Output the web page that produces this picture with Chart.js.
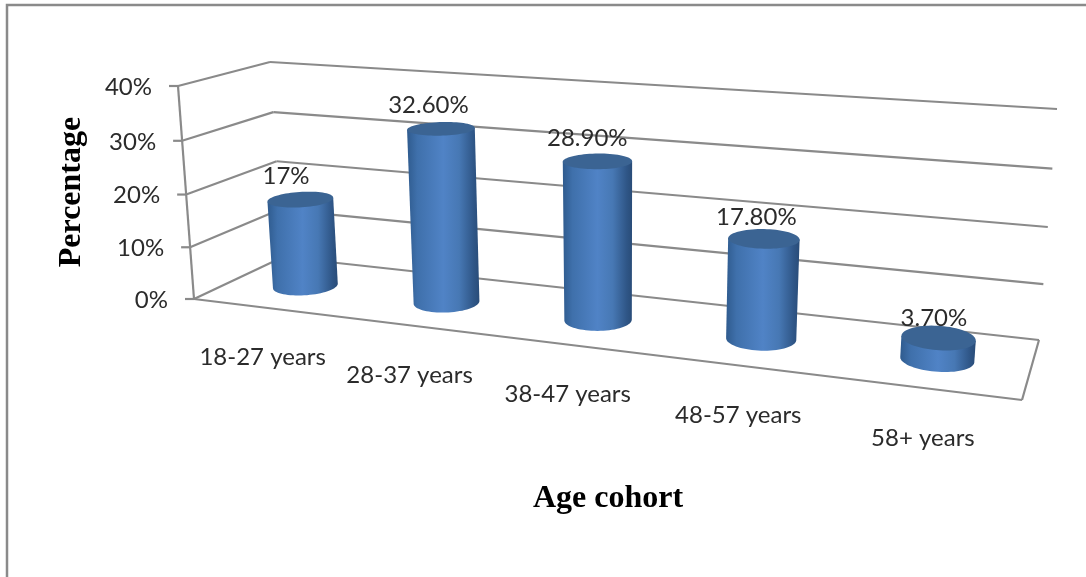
<!DOCTYPE html>
<html>
<head>
<meta charset="utf-8">
<title>Age cohort</title>
<style>
  html, body { margin: 0; padding: 0; background: #fff; }
  canvas { display: block; }
</style>
<script src="https://cdn.jsdelivr.net/npm/chart.js@4"></script>
</head>
<body>
<canvas id="cohortChart" width="1086" height="577"></canvas>
<script>
const categories = ['18-27 years', '28-37 years', '38-47 years', '48-57 years', '58+ years'];
const percentages = [17, 32.6, 28.9, 17.8, 3.7];
const valueLabels = ['17%', '32.60%', '28.90%', '17.80%', '3.70%'];
const yTickLabels = ['0%', '10%', '20%', '30%', '40%'];
const yAxisTitle = 'Percentage';
const xAxisTitle = 'Age cohort';

const LINE_COLOR = '#8a8a8a';
const TEXT_COLOR = '#2b2b2b';
const LABEL_FONT = '24px Lato';
const TITLE_FONT = 'bold 32px "Liberation Serif"';

// screen corners of the plot box, order: floor left, floor right, top right, top left
const FRONT_PLANE = [[194, 299], [1022, 400], [1042, 145], [178, 86]];
const BACK_PLANE = [[283, 257], [1039, 340], [1057, 109], [270, 62]];
const BAR_DEPTH = 0.5;
const BAR_RADIUS_DEPTH = 0.21;

// unit square to quad, standard projective mapping
function makeHomography(q) {
    const [[x0, y0], [x1, y1], [x2, y2], [x3, y3]] = q;
    const dx1 = x1 - x2, dx2 = x3 - x2, sx = x0 - x1 + x2 - x3;
    const dy1 = y1 - y2, dy2 = y3 - y2, sy = y0 - y1 + y2 - y3;
    const den = dx1 * dy2 - dx2 * dy1;
    const g = (sx * dy2 - dx2 * sy) / den;
    const h = (dx1 * sy - sx * dy1) / den;
    const a = x1 - x0 + g * x1, b = x3 - x0 + h * x3;
    const d = y1 - y0 + g * y1, e = y3 - y0 + h * y3;
    return (u, v) => {
        const w = g * u + h * v + 1;
        return [(a * u + b * v + x0) / w, (d * u + e * v + y0) / w];
    };
}

const frontAt = makeHomography(FRONT_PLANE);
const backAt = makeHomography(BACK_PLANE);

// u along the categories, depth 0 front to 1 back, v along the value axis
function project(u, depth, v) {
    const f = frontAt(u, v);
    const b = backAt(u, v);
    return [f[0] + (b[0] - f[0]) * depth, f[1] + (b[1] - f[1]) * depth];
}

function segment(ctx, p, q) {
    ctx.beginPath();
    ctx.moveTo(p[0], p[1]);
    ctx.lineTo(q[0], q[1]);
    ctx.stroke();
}

function unitX(chart, px) {
    return (px - chart.chartArea.left) / chart.chartArea.width;
}

function unitY(chart, px) {
    return (chart.chartArea.bottom - px) / chart.chartArea.height;
}

function ellipsePoints(u, halfU, v) {
    const pts = [];
    for (let i = 0; i < 72; i++) {
        const t = (i / 72) * Math.PI * 2;
        pts.push(project(u + halfU * Math.cos(t), BAR_DEPTH + BAR_RADIUS_DEPTH * Math.sin(t), v));
    }
    return pts;
}

function tracePolygon(ctx, pts) {
    ctx.beginPath();
    pts.forEach((p, i) => (i ? ctx.lineTo(p[0], p[1]) : ctx.moveTo(p[0], p[1])));
    ctx.closePath();
}

function drawCylinder(ctx, u, halfU, vTop, vBase) {
    const top = ellipsePoints(u, halfU, vTop);
    const base = ellipsePoints(u, halfU, vBase);
    const leftOf = (pts) => pts.reduce((m, p) => (p[0] < m[0] ? p : m));
    const rightOf = (pts) => pts.reduce((m, p) => (p[0] > m[0] ? p : m));
    const topL = leftOf(top), topR = rightOf(top);
    const baseL = leftOf(base), baseR = rightOf(base);

    // front half of the base, between its two silhouette points
    const li = base.indexOf(baseL), ri = base.indexOf(baseR);
    const arc = [];
    for (let i = ri; ; i = (i + 71) % 72) {
        arc.push(base[i]);
        if (i === li) break;
    }

    const x0 = Math.min(topL[0], baseL[0]);
    const x1 = Math.max(topR[0], baseR[0]);
    const body = ctx.createLinearGradient(x0, 0, x1, 0);
    body.addColorStop(0, '#2f5b8e');
    body.addColorStop(0.14, '#3f70ab');
    body.addColorStop(0.5, '#5083c6');
    body.addColorStop(0.72, '#4778b4');
    body.addColorStop(0.92, '#2f5687');
    body.addColorStop(1, '#294c78');
    ctx.fillStyle = body;
    tracePolygon(ctx, [topL, topR].concat(arc));
    ctx.fill();

    ctx.fillStyle = '#3b6493';
    tracePolygon(ctx, top);
    ctx.fill();
}

const cohortBox = {
    id: 'cohortBox',

    beforeDraw(chart) {
        const ctx = chart.ctx;
        ctx.save();
        ctx.strokeStyle = LINE_COLOR;
        ctx.lineWidth = 2.5;
        ctx.beginPath();
        ctx.moveTo(7, 577);
        ctx.lineTo(7, 5);
        ctx.lineTo(1086, 5);
        ctx.stroke();
        ctx.restore();
    },

    beforeDatasetsDraw(chart) {
        const ctx = chart.ctx;
        const yScale = chart.scales.y;
        ctx.save();
        ctx.strokeStyle = LINE_COLOR;
        ctx.lineWidth = 2.2;
        ctx.fillStyle = TEXT_COLOR;
        ctx.font = LABEL_FONT;
        ctx.textAlign = 'right';
        ctx.textBaseline = 'middle';

        yScale.ticks.forEach((tick, i) => {
            const v = unitY(chart, yScale.getPixelForValue(tick.value));
            const front = project(0, 0, v);
            const corner = project(0, 1, v);
            const end = project(1, 1, v);
            segment(ctx, [front[0] - 9, front[1]], front);
            segment(ctx, front, corner);
            segment(ctx, corner, end);
            ctx.fillText(yTickLabels[i], front[0] - 26, front[1] + 1);
        });

        // left upright and the floor outline
        segment(ctx, project(0, 0, 0), project(0, 0, 1));
        segment(ctx, project(0, 0, 0), project(1, 0, 0));
        segment(ctx, project(1, 0, 0), project(1, 1, 0));
        ctx.restore();
    },

    afterDatasetsDraw(chart) {
        const ctx = chart.ctx;
        const meta = chart.getDatasetMeta(0);
        const xScale = chart.scales.x;
        ctx.save();
        meta.data.forEach((bar) => {
            const u = unitX(chart, bar.x);
            const halfU = bar.width / 2 / chart.chartArea.width;
            drawCylinder(ctx, u, halfU, unitY(chart, bar.y), unitY(chart, bar.base));
        });

        ctx.fillStyle = TEXT_COLOR;
        ctx.font = LABEL_FONT;
        ctx.textAlign = 'center';
        ctx.textBaseline = 'middle';
        meta.data.forEach((bar, i) => {
            const p = project(unitX(chart, bar.x), 0.33, unitY(chart, bar.y));
            ctx.fillText(valueLabels[i], p[0], p[1] - 29);
        });
        categories.forEach((label, i) => {
            const p = project(unitX(chart, xScale.getPixelForValue(i)), 0, 0);
            ctx.fillText(label, p[0] - 1, p[1] + 50);
        });

        ctx.fillStyle = '#000';
        ctx.font = TITLE_FONT;
        ctx.textBaseline = 'alphabetic';
        ctx.fillText(xAxisTitle, 608, 507);
        ctx.translate(80, 192);
        ctx.rotate(-Math.PI / 2);
        ctx.fillText(yAxisTitle, 0, 0);
        ctx.restore();
    }
};

new Chart(document.getElementById('cohortChart'), {
    type: 'bar',
    data: {
        labels: categories,
        datasets: [{
            data: percentages,
            backgroundColor: 'rgba(0,0,0,0)',
            barPercentage: 0.4,
            categoryPercentage: 1
        }]
    },
    options: {
        responsive: false,
        animation: false,
        layout: { padding: 0 },
        plugins: {
            legend: { display: false },
            tooltip: { enabled: false }
        },
        scales: {
            x: { display: false },
            y: { display: false, min: 0, max: 40, ticks: { stepSize: 10 } }
        }
    },
    plugins: [cohortBox]
});
</script>
</body>
</html>
